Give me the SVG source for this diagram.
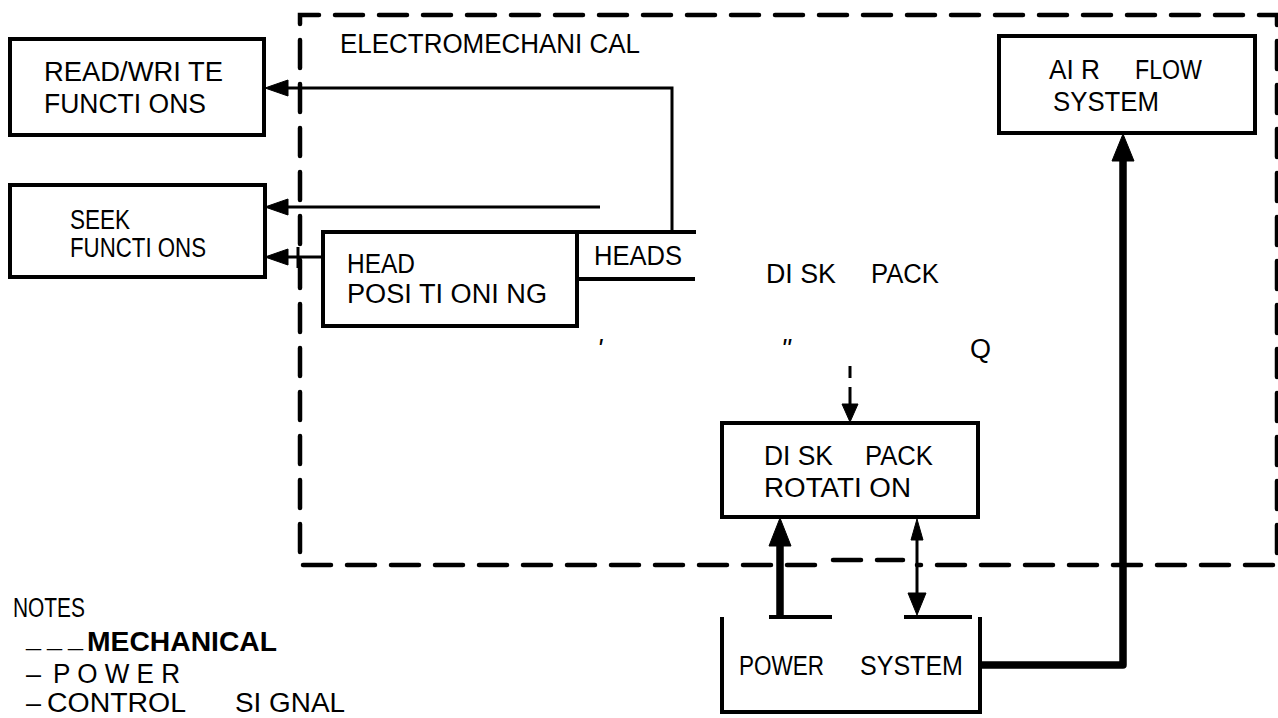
<svg xmlns="http://www.w3.org/2000/svg" width="1278" height="718" viewBox="0 0 1278 718">
<style>
.t{font-family:"Liberation Sans",Arial,sans-serif;font-size:27px;fill:#000}
.box{fill:none;stroke:#000;stroke-width:4}
.dash{fill:none;stroke:#000;stroke-width:4.5;stroke-dasharray:28 16;stroke-linecap:round}
.ln{fill:none;stroke:#000;stroke-width:3}
.thick{fill:none;stroke:#000;stroke-width:7.5}
.ah{fill:#000;stroke:#000;stroke-width:1}
</style>
<rect width="1278" height="718" fill="#fff"/>
<g id="boundary">
<path class="dash" d="M815,565 H300 V15 H1277 V565 H917"/>
<path class="dash" d="M833,560 H903"/>
<text class="t" x="340" y="53" textLength="300" lengthAdjust="spacingAndGlyphs">ELECTROMECHANI CAL</text>
</g>
<g id="read-write">
<rect class="box" x="10" y="39" width="254" height="96"/>
<text class="t" x="44" y="81" textLength="179" lengthAdjust="spacingAndGlyphs">READ/WRI TE</text>
<text class="t" x="44" y="113" textLength="162" lengthAdjust="spacingAndGlyphs">FUNCTI ONS</text>
</g>
<g id="seek">
<rect class="box" x="10" y="185" width="255" height="92"/>
<text class="t" x="70" y="229" textLength="60" lengthAdjust="spacingAndGlyphs">SEEK</text>
<text class="t" x="70" y="257" textLength="136" lengthAdjust="spacingAndGlyphs">FUNCTI ONS</text>
</g>
<g id="head-positioning">
<rect class="box" x="323" y="232" width="254" height="94"/>
<text class="t" x="347" y="273" textLength="68" lengthAdjust="spacingAndGlyphs">HEAD</text>
<text class="t" x="347" y="303" textLength="200" lengthAdjust="spacingAndGlyphs">POSI TI ONI NG</text>
</g>
<g id="heads">
<path class="box" d="M577,232 H696 M577,279 H695"/>
<text class="t" x="594" y="265" textLength="88" lengthAdjust="spacingAndGlyphs">HEADS</text>
</g>
<g id="disk-pack">
<text class="t" y="283"><tspan x="766" textLength="70" lengthAdjust="spacingAndGlyphs">DI SK</tspan> <tspan x="871" textLength="68" lengthAdjust="spacingAndGlyphs">PACK</tspan></text>
<text class="t" x="597" y="358" font-style="italic">'</text>
<text class="t" x="781" y="358" font-style="italic">"</text>
<text class="t" x="970" y="358">Q</text>
</g>
<g id="disk-pack-rotation">
<rect class="box" x="722" y="423" width="256" height="94"/>
<text class="t" y="465"><tspan x="764" textLength="69" lengthAdjust="spacingAndGlyphs">DI SK</tspan> <tspan x="865" textLength="68" lengthAdjust="spacingAndGlyphs">PACK</tspan></text>
<text class="t" x="764" y="497" textLength="147" lengthAdjust="spacingAndGlyphs">ROTATI ON</text>
</g>
<g id="air-flow">
<rect class="box" x="999" y="36" width="256" height="97"/>
<text class="t" y="79"><tspan x="1049" textLength="51" lengthAdjust="spacingAndGlyphs">AI R</tspan> <tspan x="1135" textLength="67" lengthAdjust="spacingAndGlyphs">FLOW</tspan></text>
<text class="t" x="1053" y="111" textLength="106" lengthAdjust="spacingAndGlyphs">SYSTEM</text>
</g>
<g id="power-system">
<path class="box" d="M722,617 V712 H980 V617"/>
<path class="box" d="M769,617 H832 M904,617 H972"/>
<text class="t" y="675"><tspan x="739" textLength="85" lengthAdjust="spacingAndGlyphs">POWER</tspan> <tspan x="860" textLength="103" lengthAdjust="spacingAndGlyphs">SYSTEM</tspan></text>
</g>
<g id="connectors">
<polyline class="ln" points="672,232 672,88 284,88"/>
<polygon class="ah" points="265,88 288,80 288,96"/>
<line class="ln" x1="600" y1="207" x2="284" y2="207"/>
<polygon class="ah" points="265,207 288,199 288,215"/>
<line class="ln" x1="323" y1="257" x2="284" y2="257" stroke-width="4"/>
<polygon class="ah" points="265,257 288,249 288,265"/>
<line class="ln" x1="298" y1="247" x2="298" y2="268"/>
<line class="ln" x1="850" y1="366" x2="850" y2="378" stroke-width="5"/>
<line class="ln" x1="850" y1="387" x2="850" y2="406"/>
<polygon class="ah" points="850,422 842,404 858,404"/>
<line class="thick" x1="780" y1="617" x2="780" y2="543"/>
<polygon class="ah" points="780,518 769,546 791,546"/>
<line class="ln" x1="917" y1="538" x2="917" y2="596"/>
<polygon class="ah" points="917,519 911,540 923,540"/>
<polygon class="ah" points="917,615 908,593 926,593"/>
<polyline class="thick" points="980,665 1123,665 1123,158" stroke-linejoin="round"/>
<polygon class="ah" points="1123,134 1112,161 1134,161"/>
</g>
<g id="notes">
<text class="t" x="13" y="617" textLength="72" lengthAdjust="spacingAndGlyphs">NOTES</text>
<text class="t" x="26" y="647" font-weight="bold" letter-spacing="6">___</text>
<text class="t" x="87" y="651" font-weight="bold" font-size="29" textLength="190" lengthAdjust="spacingAndGlyphs">MECHANICAL</text>
<text class="t" x="26" y="683">–</text>
<text class="t" x="53" y="683" textLength="127" lengthAdjust="spacingAndGlyphs">P O W E R</text>
<text class="t" x="26" y="712" font-size="25">–</text>
<text class="t" y="712" font-size="25"><tspan x="47" textLength="138" lengthAdjust="spacingAndGlyphs">CONTROL</tspan> <tspan x="235" textLength="110" lengthAdjust="spacingAndGlyphs">SI GNAL</tspan></text>
</g>
</svg>
